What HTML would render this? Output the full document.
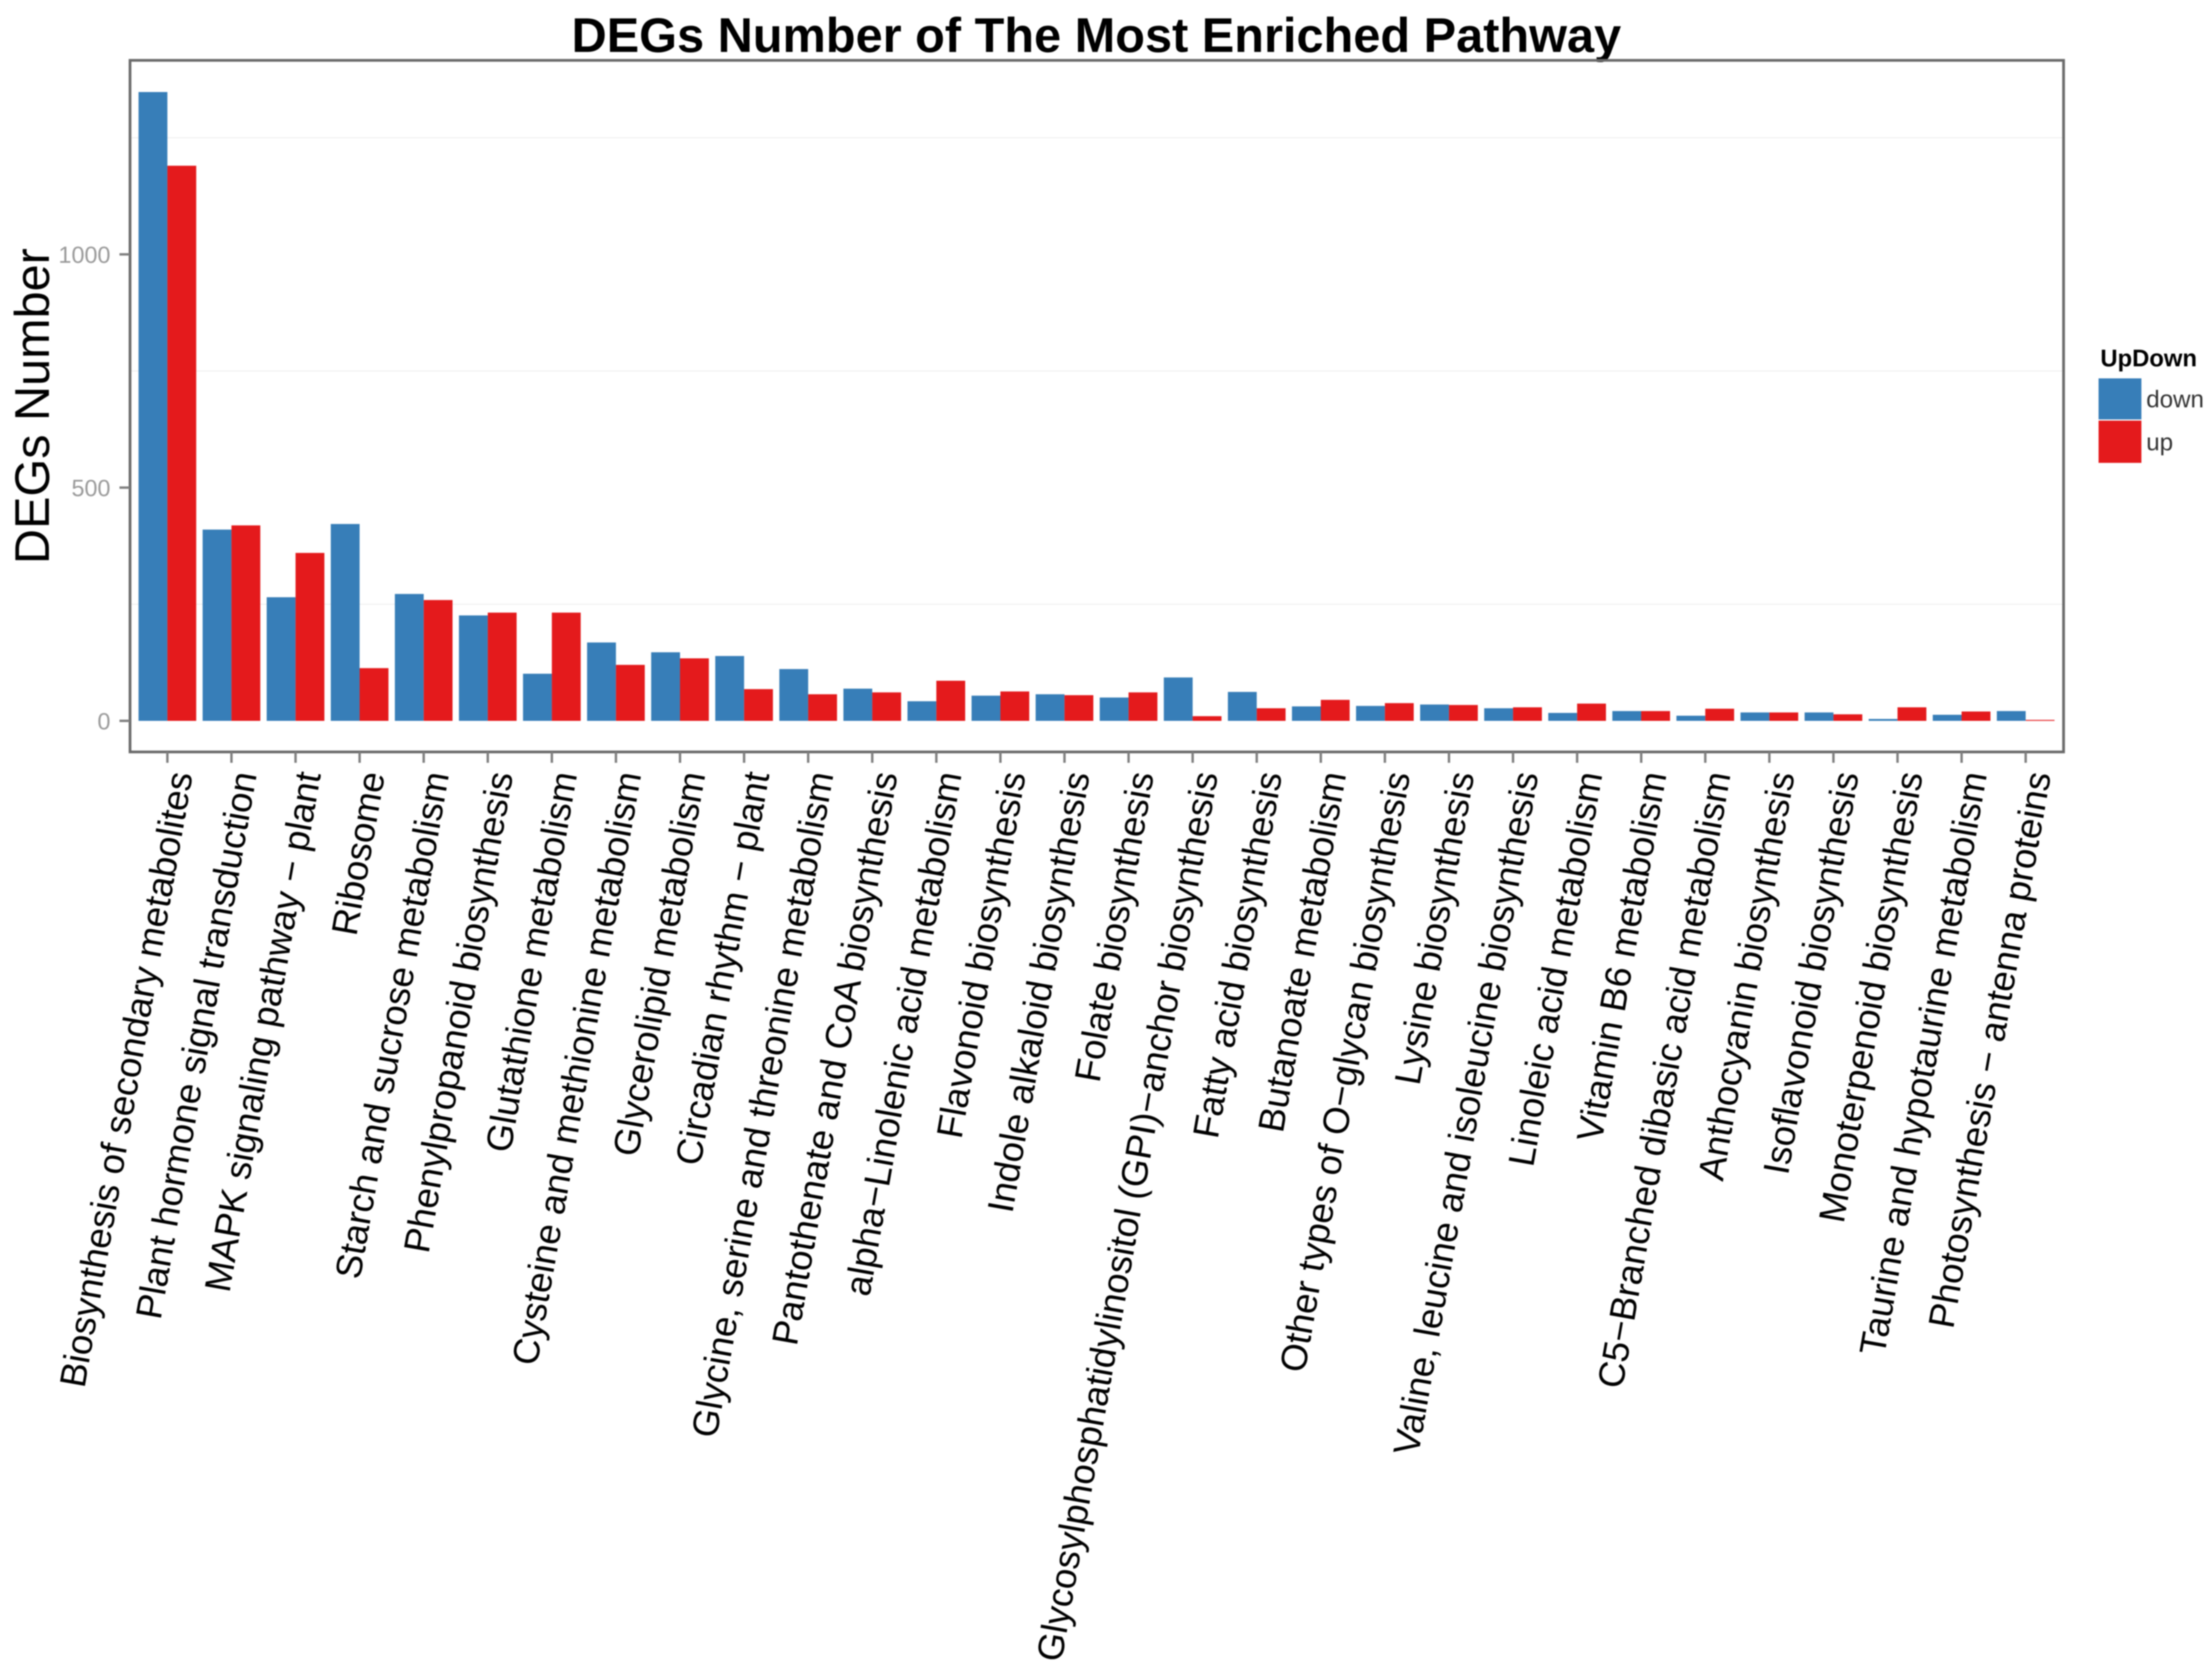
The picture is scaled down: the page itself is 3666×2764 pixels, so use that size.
<!DOCTYPE html>
<html lang="en">
<head>
<meta charset="utf-8">
<title>DEGs Number of The Most Enriched Pathway</title>
<style>
html,body{margin:0;padding:0;background:#fff;}
svg{display:block;filter:blur(1px);}
text{font-family:"Liberation Sans",Arial,sans-serif;}
</style>
</head>
<body>
<svg id="chart" xmlns="http://www.w3.org/2000/svg" width="3666" height="2764" viewBox="0 0 3666 2764">
  <rect x="0" y="0" width="3666" height="2764" fill="#ffffff"/>
  <text x="1817" y="86" font-size="80.7" font-weight="700" text-anchor="middle" fill="#000">DEGs Number of The Most Enriched Pathway</text>
  <g id="grid"></g>
  <g id="bars"></g>
  <rect x="215.5" y="100" width="3204.5" height="1146" fill="none" stroke="#6a6a6a" stroke-width="4.5"/>
  <g id="yaxis"></g>
  <g id="xaxis"></g>
  <text transform="translate(81,673) rotate(-90)" font-size="80.5" text-anchor="middle" fill="#000">DEGs Number</text>
  <g>
    <text x="3481" y="607" font-size="39.5" font-weight="700" fill="#000">UpDown</text>
    <rect x="3478" y="627" width="71" height="68" fill="#377EB8"/>
    <rect x="3478" y="697" width="71" height="70" fill="#E41A1C"/>
    <text x="3557" y="675" font-size="40" fill="#333">down</text>
    <text x="3557" y="746" font-size="40" fill="#333">up</text>
  </g>
</svg>
<script>
const categories = [
  "Biosynthesis of secondary metabolites",
  "Plant hormone signal transduction",
  "MAPK signaling pathway \u2212 plant",
  "Ribosome",
  "Starch and sucrose metabolism",
  "Phenylpropanoid biosynthesis",
  "Glutathione metabolism",
  "Cysteine and methionine metabolism",
  "Glycerolipid metabolism",
  "Circadian rhythm \u2212 plant",
  "Glycine, serine and threonine metabolism",
  "Pantothenate and CoA biosynthesis",
  "alpha\u2212Linolenic acid metabolism",
  "Flavonoid biosynthesis",
  "Indole alkaloid biosynthesis",
  "Folate biosynthesis",
  "Glycosylphosphatidylinositol (GPI)\u2212anchor biosynthesis",
  "Fatty acid biosynthesis",
  "Butanoate metabolism",
  "Other types of O\u2212glycan biosynthesis",
  "Lysine biosynthesis",
  "Valine, leucine and isoleucine biosynthesis",
  "Linoleic acid metabolism",
  "Vitamin B6 metabolism",
  "C5\u2212Branched dibasic acid metabolism",
  "Anthocyanin biosynthesis",
  "Isoflavonoid biosynthesis",
  "Monoterpenoid biosynthesis",
  "Taurine and hypotaurine metabolism",
  "Photosynthesis \u2212 antenna proteins"
];
const downValues = [1348,410,265,422,272,226,101,168,147,139,111,69,42,54,57,50,93,62,31,32,35,27,17,21,11,18,18,4,13,21];
const upValues = [1190,419,360,113,259,232,232,120,134,68,57,61,86,63,55,61,10,27,45,38,34,29,37,21,26,18,14,29,20,2];
const yTickValues = [0,500,1000];
const yGridValues = [0,250,500,750,1000,1250];

const NS = 'http://www.w3.org/2000/svg';
function xScale(i){ return 277.4 + 106.2 * i; }
function yScale(v){ return 1194.5 - 0.773 * v; }
const barWidth = 47.8;
function make(tag, parent, attrs){
  const el = document.createElementNS(NS, tag);
  for (const k in attrs) el.setAttribute(k, attrs[k]);
  parent.appendChild(el);
  return el;
}
const gridG = document.getElementById('grid');
const barsG = document.getElementById('bars');
const yG = document.getElementById('yaxis');
const xG = document.getElementById('xaxis');

yGridValues.forEach(function(v){
  const major = yTickValues.indexOf(v) >= 0;
  if (major) return;
  const el = make('line', gridG, {x1:218, x2:3418, y1:yScale(v), y2:yScale(v), stroke:'#f2f2f2', 'stroke-width':2});
  
  
});

categories.forEach(function(name, i){
  const cx = xScale(i);
  const d = make('rect', barsG, {x:cx - barWidth, y:yScale(downValues[i]), width:barWidth, height:Math.max(yScale(0) - yScale(downValues[i]), 0), fill:'#377EB8'});
  
  
  const u = make('rect', barsG, {x:cx, y:yScale(upValues[i]), width:barWidth, height:Math.max(yScale(0) - yScale(upValues[i]), 0), fill:'#E41A1C'});
  
  

  const t = make('line', xG, {x1:cx, x2:cx, y1:1246, y2:1264, stroke:'#7f7f7f', 'stroke-width':4});
  
  
  const lab = make('text', xG, {transform:'translate(' + (cx + 42) + ',1283) rotate(-80)', 'font-size':60.8, 'text-anchor':'end', fill:'#000'});
  
  
  lab.textContent = name;
});

yTickValues.forEach(function(v){
  const t = make('line', yG, {x1:198, x2:215, y1:yScale(v), y2:yScale(v), stroke:'#7f7f7f', 'stroke-width':4});
  
  
  const lab = make('text', yG, {x:183, y:yScale(v) + 14, 'font-size':38.7, 'text-anchor':'end', fill:'#9a9a9a'});
  
  
  lab.textContent = String(v);
});
</script>
</body>
</html>
